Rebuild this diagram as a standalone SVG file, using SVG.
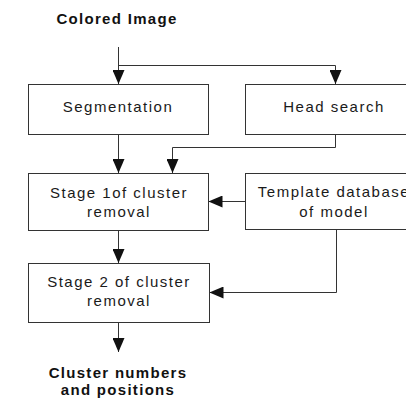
<svg xmlns="http://www.w3.org/2000/svg" width="406" height="401" viewBox="0 0 406 401">
  <style>
    .box { fill: #ffffff; stroke: #333333; stroke-width: 1; }
    .lbl { font-family: "Liberation Sans", Arial, sans-serif; font-size: 15px; letter-spacing: 1.5px; fill: #1a1a1a; text-anchor: middle; }
    .bold { font-family: "Liberation Sans", Arial, sans-serif; font-size: 15px; font-weight: bold; letter-spacing: 1.3px; fill: #111111; text-anchor: middle; }
    .edge { fill: none; stroke: #333333; stroke-width: 1; }
  </style>
  <defs>
    <marker id="arrow" markerUnits="userSpaceOnUse" markerWidth="14" markerHeight="12" refX="14" refY="6" orient="auto">
      <path d="M0,0 L14,6 L0,12 Z" fill="#111111"/>
    </marker>
  </defs>
  <rect width="406" height="401" fill="#ffffff"/>

  <g id="input">
    <text class="bold" x="117" y="24">Colored Image</text>
  </g>
  <g id="segmentation">
    <rect class="box" x="28.5" y="84.5" width="180" height="50"/>
    <text class="lbl" x="118" y="112">Segmentation</text>
  </g>
  <g id="head-search">
    <rect class="box" x="245.5" y="84.5" width="180" height="50"/>
    <text class="lbl" x="334" y="112">Head search</text>
  </g>
  <g id="stage1">
    <rect class="box" x="28.5" y="173.5" width="180" height="57"/>
    <text class="lbl" x="119" y="198">Stage 1of cluster</text>
    <text class="lbl" x="119" y="217">removal</text>
  </g>
  <g id="template">
    <rect class="box" x="245.5" y="173.5" width="180" height="56"/>
    <text class="lbl" x="334" y="197">Template database</text>
    <text class="lbl" x="334" y="217">of model</text>
  </g>
  <g id="stage2">
    <rect class="box" x="28.5" y="263.5" width="181" height="59"/>
    <text class="lbl" x="119" y="287">Stage 2 of cluster</text>
    <text class="lbl" x="119" y="306">removal</text>
  </g>
  <g id="output">
    <text class="bold" x="118" y="378">Cluster numbers</text>
    <text class="bold" x="118" y="395">and positions</text>
  </g>

  <g id="connectors">
    <path class="edge" d="M118.5,47 V84" marker-end="url(#arrow)"/>
    <path class="edge" d="M118.5,65.5 H335.5 V84" marker-end="url(#arrow)"/>
    <path class="edge" d="M118.5,134 V173" marker-end="url(#arrow)"/>
    <path class="edge" d="M335.5,134 V147.5 H172.5 V173" marker-end="url(#arrow)"/>
    <path class="edge" d="M245,201.5 H208.5" marker-end="url(#arrow)"/>
    <path class="edge" d="M336.5,229 V292.5 H209.5" marker-end="url(#arrow)"/>
    <path class="edge" d="M118.5,230 V263" marker-end="url(#arrow)"/>
    <path class="edge" d="M118.5,322 V352" marker-end="url(#arrow)"/>
  </g>
</svg>
